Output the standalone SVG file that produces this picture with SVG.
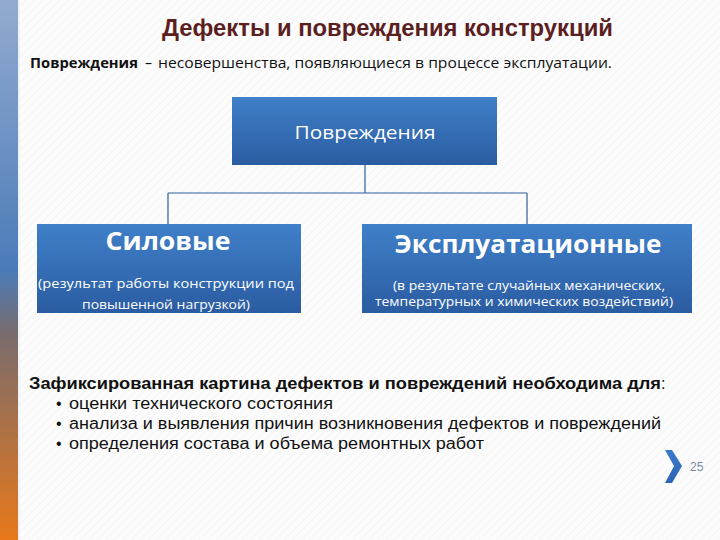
<svg xmlns="http://www.w3.org/2000/svg" width="720" height="540" viewBox="0 0 720 540">
<defs>
<linearGradient id="bar" x1="0" y1="0" x2="0" y2="1">
<stop offset="0" stop-color="#93abd0"/>
<stop offset="0.5" stop-color="#4a7bb8"/>
<stop offset="0.62" stop-color="#7a6c6c"/>
<stop offset="1" stop-color="#e8781a"/>
</linearGradient>
<linearGradient id="box" x1="0" y1="0" x2="0" y2="1">
<stop offset="0" stop-color="#3f80c9"/>
<stop offset="1" stop-color="#2b5ca1"/>
</linearGradient>
<linearGradient id="chev" x1="0" y1="0" x2="0" y2="1">
<stop offset="0" stop-color="#3a7acb"/>
<stop offset="1" stop-color="#2d65b5"/>
</linearGradient>
<pattern id="hatch" width="6" height="6" patternUnits="userSpaceOnUse" patternTransform="rotate(45)">
<rect width="6" height="6" fill="#fcfcfc"/>
<line x1="0" y1="0" x2="0" y2="6" stroke="#efefef" stroke-width="1"/>
</pattern>
</defs>
<style>
.box{fill:url(#box);}
.wt{fill:#ffffff;font-family:"Open Sans","Noto Sans","DejaVu Sans",sans-serif;text-anchor:middle;}
.conn{stroke:#2f5f9e;stroke-width:1.2;fill:none;}
.body{font-family:"Liberation Sans",Arial,sans-serif;fill:#111111;}
</style>
<rect width="720" height="540" fill="url(#hatch)"/>
<rect x="0" y="0" width="18" height="540" fill="url(#bar)"/>
<rect x="18" y="0" width="2" height="540" fill="#eef3fa"/>

<text x="162" y="36" font-family="Liberation Sans,Arial,sans-serif" font-weight="bold" font-size="23" fill="#5c1f1f" textLength="451" lengthAdjust="spacingAndGlyphs">Дефекты и повреждения конструкций</text>
<text x="30" y="68" font-family="Open Sans,Noto Sans,sans-serif" font-size="14" font-weight="bold" fill="#111" textLength="108" lengthAdjust="spacingAndGlyphs">Повреждения</text>
<text x="145" y="68" font-family="Open Sans,Noto Sans,sans-serif" font-size="14" fill="#111">–</text>
<text x="158" y="68" font-family="Open Sans,Noto Sans,sans-serif" font-size="14" fill="#111" textLength="454" lengthAdjust="spacingAndGlyphs">несовершенства, появляющиеся в процессе эксплуатации.</text>

<g id="connectors">
<path class="conn" d="M365 165 V193 M168 193 H527 M168 193 V225 M527 193 V225"/>
</g>

<g id="node-root">
<rect class="box" x="232" y="97" width="265" height="68"/>
<text class="wt" x="365" y="139" font-size="19" textLength="141" lengthAdjust="spacingAndGlyphs">Повреждения</text>
</g>

<g id="node-silovye">
<rect class="box" x="37" y="224" width="264" height="89"/>
<text class="wt" x="168" y="250" font-size="25" font-weight="bold" textLength="125" lengthAdjust="spacingAndGlyphs">Силовые</text>
<text class="wt" x="166" y="288" font-size="13" textLength="256" lengthAdjust="spacingAndGlyphs">(результат работы конструкции под</text>
<text class="wt" x="166" y="309" font-size="13" textLength="168" lengthAdjust="spacingAndGlyphs">повышенной нагрузкой)</text>
</g>

<g id="node-expl">
<rect class="box" x="362" y="224" width="330" height="89"/>
<text class="wt" x="528" y="253" font-size="25" font-weight="bold" textLength="267" lengthAdjust="spacingAndGlyphs">Эксплуатационные</text>
<text class="wt" x="529" y="290" font-size="12.5" textLength="272" lengthAdjust="spacingAndGlyphs">(в результате случайных механических,</text>
<text class="wt" x="524" y="306" font-size="12.5" textLength="298" lengthAdjust="spacingAndGlyphs">температурных и химических воздействий)</text>
</g>

<text class="body" x="29" y="389" font-size="16" font-weight="bold"><tspan textLength="632" lengthAdjust="spacingAndGlyphs">Зафиксированная картина дефектов и повреждений необходима для</tspan><tspan font-weight="normal">:</tspan></text>
<g class="body" font-size="16">
<text x="56" y="409">•</text><text x="69" y="409" textLength="264" lengthAdjust="spacingAndGlyphs">оценки технического состояния</text>
<text x="56" y="429">•</text><text x="69" y="429" textLength="592" lengthAdjust="spacingAndGlyphs">анализа и выявления причин возникновения дефектов и повреждений</text>
<text x="56" y="449">•</text><text x="69" y="449" textLength="415" lengthAdjust="spacingAndGlyphs">определения состава и объема ремонтных работ</text>
</g>

<path d="M665 450 L672 450 L682 466 L672 483 L665 483 L674 466 Z" fill="url(#chev)"/>
<text x="690" y="471" font-family="Liberation Sans,Arial,sans-serif" font-size="12" fill="#7a8aa6">25</text>
</svg>
